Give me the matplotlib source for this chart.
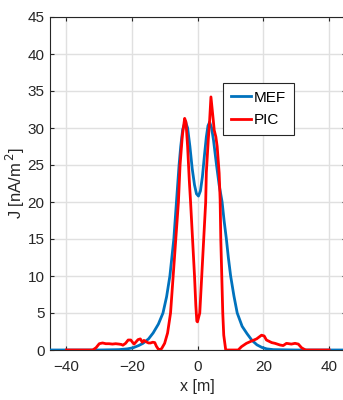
import matplotlib
matplotlib.use("Agg")
import matplotlib.pyplot as plt

plt.rcParams["font.family"] = ["Liberation Sans", "DejaVu Sans"]

# MEF current density
mef_x = [-45, -30, -24, -21.5, -19.7, -18, -16.7, -15, -13.6, -12, -10.6, -9.5,
         -8.5, -7.9, -7.3, -6.9, -6.5, -6.1, -5.7, -5.2, -4.6, -3.8, -3.1, -2.4,
         -1.7, -1.0, -0.4, 0.2, 0.8, 1.4, 2.0, 2.6, 3.1, 3.6, 4.2, 4.8, 5.7, 6.5,
         7.4, 8.0, 8.7, 9.3, 10.0, 11.0, 12.0, 13.5, 15.0, 16.5, 18.0, 19.5, 21.0,
         23.0, 30, 45]
mef_j = [0, 0, 0.05, 0.15, 0.3, 0.6, 0.9, 1.5, 2.3, 3.5, 5.0, 7.2,
         10.0, 12.5, 15.0, 17.5, 20.0, 22.5, 25.0, 27.5, 29.8, 30.9, 30.0, 27.5,
         24.5, 22.3, 21.1, 20.8, 21.5, 23.4, 26.2, 28.8, 30.3, 30.8, 30.0, 28.3, 25.0, 22.3,
         20.0, 17.5, 15.0, 12.5, 10.0, 7.3, 5.0, 3.2, 2.2, 1.3, 0.7, 0.35, 0.15,
         0.05, 0, 0]

# PIC current density
pic_x = [-40, -32, -31, -30, -29, -28, -27, -26, -25, -24, -23.3, -22.8, -22,
         -21.2, -20.4, -19.8, -19.4, -18.8, -18.2, -17.5, -16.9, -16.4, -15.7, -15,
         -14.4, -13.7, -13.1, -12.6, -12.0, -11.6, -11.0, -10.1, -9.2, -8.3, -7.5,
         -6.7, -5.9, -5.4, -4.7, -4.0, -3.6, -3.1, -2.6, -2.2, -1.6, -1.0, -0.6,
         -0.3, -0.1, 0.3, 0.6, 1.2, 1.8, 2.4, 2.6, 3.2, 3.6, 4.0, 4.7, 5.0, 5.5,
         5.9, 6.5, 6.8, 7.0, 7.3, 7.6, 7.9, 8.5, 12.3, 13.3, 14.8, 16.3, 17.9,
         19.4, 20.2, 20.9, 22.5, 23.5, 25, 26, 27, 28.5, 29.6, 30.6, 31.6, 32.6,
         33, 40]
pic_j = [0, 0, 0.3, 0.85, 0.95, 0.85, 0.85, 0.8, 0.85, 0.8, 0.75, 0.65, 0.9,
         1.35, 1.35, 1.0, 0.8, 1.1, 1.4, 1.5, 1.05, 1.3, 1.1, 0.95,
         0.95, 1.05, 1.0, 0.5, 0.1, 0.0, 0.2, 0.9, 2.3, 5.0, 10.0,
         15.0, 20.0, 25.0, 29.0, 31.3, 30.8, 27.5, 23.0, 20.0, 15.0, 10.0, 6.0,
         3.9, 3.8, 4.5, 5.0, 10.0, 15.0, 20.0, 24.0, 28.5, 31.0, 34.2, 31.1, 29.7, 28.8,
         27.5, 23.9, 20.3, 15.0, 10.0, 5.0, 2.0, 0, 0, 0.45, 0.9, 1.2, 1.5,
         2.0, 1.9, 1.35, 1.0, 0.9, 0.68, 0.6, 0.9, 0.8, 0.9, 0.8, 0.3, 0.05,
         0, 0]

x_ticks = [-40, -20, 0, 20, 40]
y_ticks = list(range(0, 50, 5))

dpi = 100
fig = plt.figure(figsize=(3.43, 4.0), dpi=dpi)
ax = fig.add_axes([50 / 343, 50 / 400, 295.6 / 343, 333 / 400])

ax.plot(mef_x, mef_j, color="#0072BD", lw=2.0, label="MEF", zorder=3)
ax.plot(pic_x, pic_j, color="#FF0000", lw=2.0, label="PIC", zorder=4)

ax.set_xlim(-45, 45)
ax.set_ylim(0, 45)
ax.set_xticks(x_ticks)
ax.set_yticks(y_ticks)
ax.grid(True, color="#e0e0e0", lw=1.0)
ax.set_axisbelow(True)

for side in ax.spines.values():
    side.set_color("#262626")
    side.set_linewidth(0.8)

ax.tick_params(direction="in", length=3, width=0.8, colors="#262626",
               labelsize=11, top=True, right=True)
ax.tick_params(axis="x", pad=7)
ax.tick_params(axis="y", pad=4)

ax.set_xlabel("x [m]", fontsize=11.5, color="#262626", labelpad=4)
ax.set_ylabel("J [nA/m$^{\\,2}$]", fontsize=12, color="#262626", labelpad=0)

leg = ax.legend(loc="upper left", bbox_to_anchor=(0.585, 0.802), fontsize=11,
                frameon=True, fancybox=False, handlelength=1.35,
                handletextpad=0.2, borderpad=0.5, labelspacing=0.55,
                borderaxespad=0)
leg.get_frame().set_edgecolor("#262626")
leg.get_frame().set_linewidth(0.8)
leg.get_frame().set_alpha(1)

fig.savefig("out.png", dpi=dpi)
